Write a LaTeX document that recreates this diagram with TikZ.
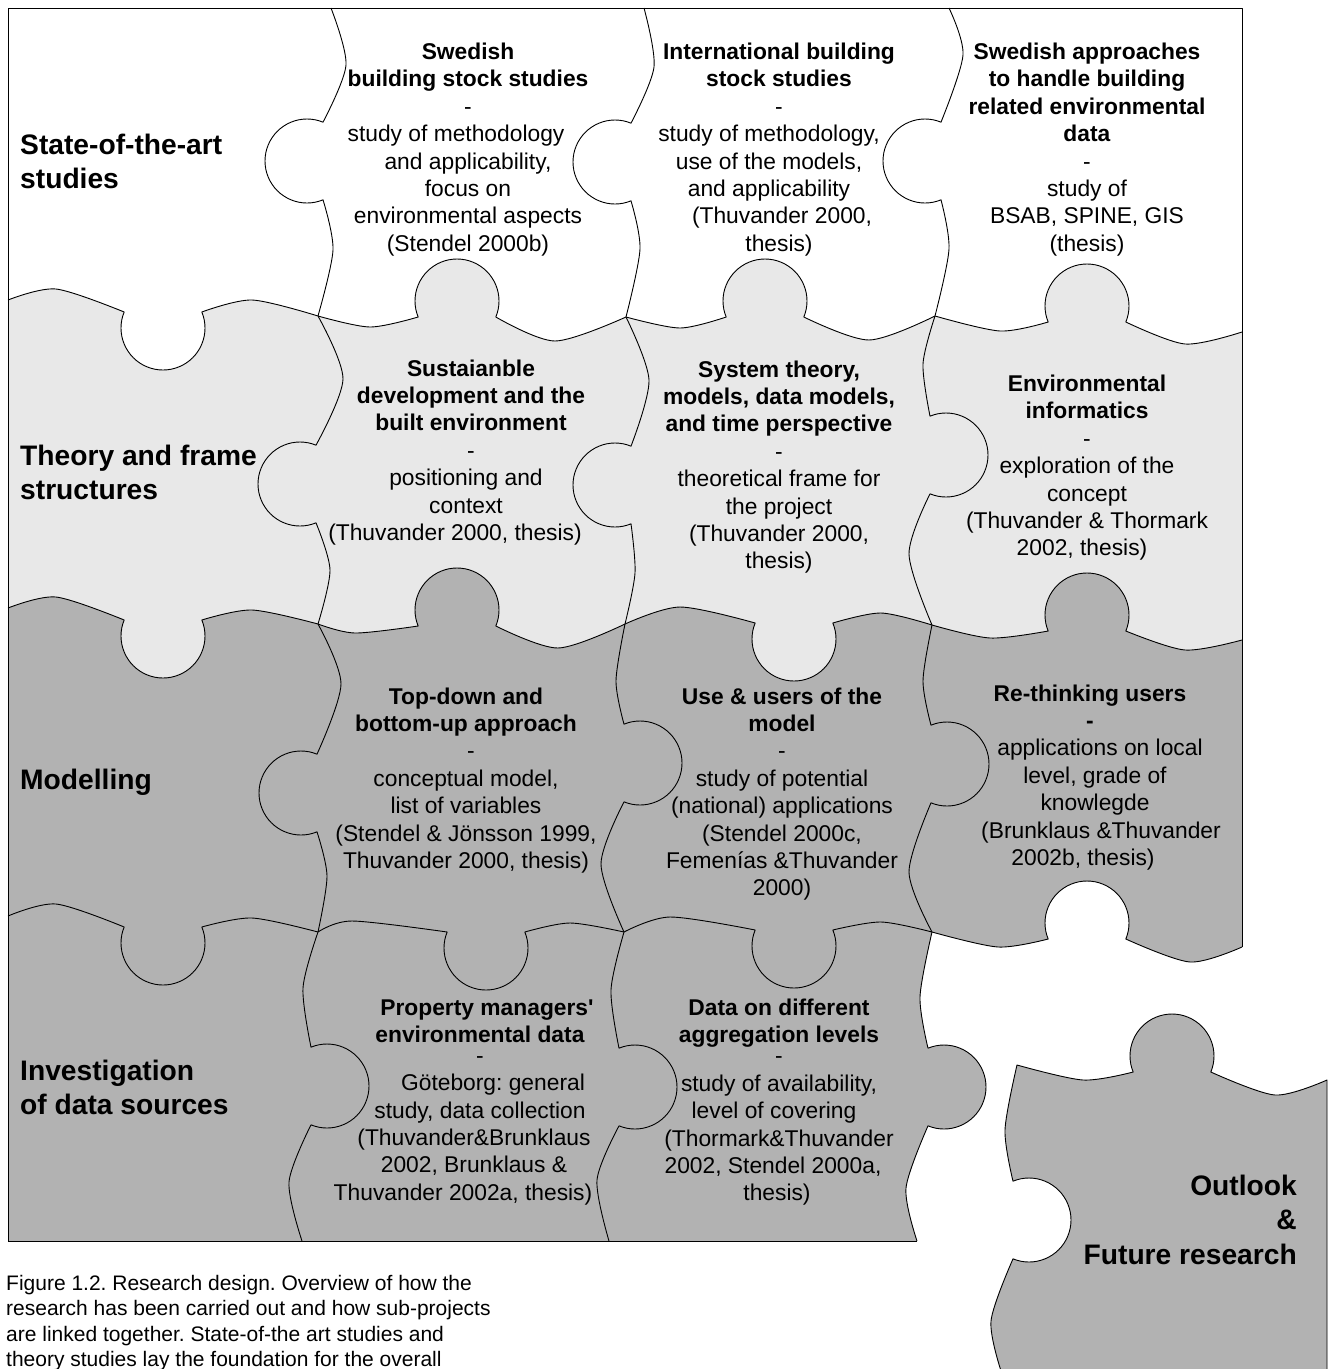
\documentclass[tikz,border=0pt]{standalone}
\usepackage{fontspec}
\setmainfont{Liberation Sans}
\frenchspacing
\definecolor{lightpiece}{RGB}{232,232,232}
\definecolor{darkpiece}{RGB}{178,178,178}

% One puzzle seam: shoulder (start, bulge, neck) -- round knob -- shoulder (neck, bulge, end).
% Arguments: start, shoulder bulge, knob centre x, knob centre y, second bulge, end.
\newcommand\kdown[6]{-- plot[smooth] coordinates {#1 #2 ({#3-38.83},{#4-16})}
  -- plot[domain=202.39:-22.39,samples=41] ({#3+42*cos(\x)},{#4+42*sin(\x)})
  -- plot[smooth] coordinates {({#3+38.83},{#4-16}) #5 #6}}
\newcommand\kup[6]{-- plot[smooth] coordinates {#1 #2 ({#3-38.83},{#4+16})}
  -- plot[domain=157.61:382.39,samples=41] ({#3+42*cos(\x)},{#4+42*sin(\x)})
  -- plot[smooth] coordinates {({#3+38.83},{#4+16}) #5 #6}}
\newcommand\kupback[6]{-- plot[smooth] coordinates {#1 #2 ({#3+38.83},{#4+16})}
  -- plot[domain=382.39:157.61,samples=41] ({#3+42*cos(\x)},{#4+42*sin(\x)})
  -- plot[smooth] coordinates {({#3-38.83},{#4+16}) #5 #6}}
\newcommand\kleft[6]{-- plot[smooth] coordinates {#1 #2 ({#3+16},{#4-38.83})}
  -- plot[domain=-67.61:-292.39,samples=41] ({#3+42*cos(\x)},{#4+42*sin(\x)})
  -- plot[smooth] coordinates {({#3+16},{#4+38.83}) #5 #6}}
\newcommand\kright[6]{-- plot[smooth] coordinates {#1 #2 ({#3-16},{#4-38.83})}
  -- plot[domain=-112.39:112.39,samples=41] ({#3+42*cos(\x)},{#4+42*sin(\x)})
  -- plot[smooth] coordinates {({#3-16},{#4+38.83}) #5 #6}}
\newcommand\krightback[6]{-- plot[smooth] coordinates {#1 #2 ({#3-16},{#4+38.83})}
  -- plot[domain=112.39:-112.39,samples=41] ({#3+42*cos(\x)},{#4+42*sin(\x)})
  -- plot[smooth] coordinates {({#3-16},{#4-38.83}) #5 #6}}

% Row seams (left to right)
\newcommand\Hone{%
 \kdown{(8,300)}{(56,289)}{163}{328}{(252,300)}{(318,316)}
 \kup{(318,316)}{(370,327)}{457}{301}{(555,341)}{(626,317)}
 \kup{(626,317)}{(680,328)}{765}{301}{(869,340)}{(935,316)}
 \kup{(935,316)}{(1000,331)}{1087}{306}{(1185,344)}{(1242,332)}}
\newcommand\Htwo{%
 \kdown{(8,608)}{(56,597)}{163}{636}{(252,610)}{(318,624)}
 \kup{(318,624)}{(355,633)}{457}{610}{(558,648)}{(625,624)}
 \kdown{(625,624)}{(680,607)}{794}{639}{(881,613)}{(932,625)}
 \kup{(932,625)}{(990,638)}{1087}{615}{(1185,650)}{(1242,640)}}
\newcommand\Hthreefour{\kup{(932,932)}{(998,947)}{1087}{923}{(1190,962)}{(1242,947)}}
\newcommand\Hthreefourback{\kupback{(1242,947)}{(1190,962)}{1087}{923}{(998,947)}{(932,932)}}
\newcommand\Hthree{%
 \kdown{(8,916)}{(56,904)}{163}{943}{(252,918)}{(318,932)}
 \kdown{(318,932)}{(352,921)}{486}{948}{(570,923)}{(624,932)}
 \kdown{(624,932)}{(670,917)}{794}{946}{(881,922)}{(932,932)}
 \Hthreefour}

% Column seams (top to bottom)
\newcommand\Vone{%
 \kleft{(331,8)}{(346,65)}{307}{161}{(333,250)}{(318,316)}
 \kleft{(318,316)}{(343,379)}{300}{484}{(330,570)}{(318,624)}
 \kleft{(318,624)}{(341,684)}{301}{793}{(327,876)}{(318,932)}
 \kright{(318,932)}{(303,988)}{327}{1086}{(289,1182)}{(302,1241)}}
\newcommand\Vtwo{%
 \kleft{(644,8)}{(654,67)}{615}{162}{(640,249)}{(626,317)}
 \kleft{(626,317)}{(649,380)}{615}{485}{(635,573)}{(625,624)}
 \kright{(625,624)}{(616,681)}{640}{763}{(601,864)}{(624,932)}
 \kright{(624,932)}{(611,990)}{635}{1087}{(597,1180)}{(609,1241)}}
\newcommand\Vthreefour{\kright{(932,932)}{(920,997)}{944}{1087}{(906,1188)}{(917,1241)}}
\newcommand\Vthreefourback{\krightback{(917,1241)}{(906,1188)}{944}{1087}{(920,997)}{(932,932)}}
\newcommand\Vthree{%
 \kleft{(949,8)}{(963,55)}{925}{161}{(949,249)}{(935,316)}
 \kright{(935,316)}{(923,364)}{946}{455}{(909,554)}{(932,625)}
 \kright{(932,625)}{(923,681)}{947}{764}{(909,872)}{(932,932)}
 \Vthreefour}

% horizontal nudge of a single centred line
\newcommand\nudge[1]{\hspace*{#1pt}}

\begin{document}
\begin{tikzpicture}[x=1pt,y=-1pt,
  seam/.style={draw=black,line width=0.9pt,line join=round},
  piecetext/.style={font=\fontsize{22.8pt}{27.4pt}\selectfont,align=center,anchor=base,inner sep=0pt},
  rowlabel/.style={font=\fontsize{28.2pt}{34.5pt}\selectfont\bfseries,align=left,anchor=base west,inner sep=0pt},
  captiontext/.style={font=\fontsize{21pt}{25.5pt}\selectfont,align=left,anchor=base west,inner sep=0pt}]
\useasboundingbox (0,0) rectangle (1334,1369);
\clip (0,0) rectangle (1334,1369);
\fill[white] (0,0) rectangle (1334,1369);

% piece colours: row 2 light, rows 3-4 dark
\fill[lightpiece] (8,300) \Hone -- (1242,947) \Hthreefourback \Vthreefour -- (8,1241) -- cycle;
\fill[darkpiece] (8,608) \Htwo -- (1242,947) \Hthreefourback \Vthreefour -- (8,1241) -- cycle;

% seams and frame
\draw[seam] (8,300) \Hone;
\draw[seam] (8,608) \Htwo;
\draw[seam] (8,916) \Hthree;
\draw[seam] (331,8) \Vone;
\draw[seam] (644,8) \Vtwo;
\draw[seam] (949,8) \Vthree;
\draw[seam] (8,1241) -- (8,8) -- (1242,8) -- (1242,947);
\draw[seam] (8,1241) -- (917,1241);

% the loose piece
\begin{scope}[shift={(85,133)}]
\filldraw[seam,fill=darkpiece] (932,932) \Hthreefour -- (1242,1320) -- (917,1320) -- (917,1241) \Vthreefourback -- cycle;
\end{scope}

% row labels (positions give the baseline of the last line)
\node[rowlabel] (lab1) at (20,188.5) {State-of-the-art\\studies};
\node[rowlabel] (lab2) at (20,499.5) {Theory and frame\\structures};
\node[rowlabel] (lab3) at (20,789.5) {Modelling};
\node[rowlabel] (lab4) at (20,1114.5) {Investigation\\of data sources};
\node[rowlabel,align=right,anchor=base east] (outlook) at (1297,1264) {Outlook\\\&\\Future research};

% row 1
\node[piecetext] (p12) at (468,251.3) {\textbf{Swedish}\\\textbf{building stock studies}\\-\\\nudge{-24}study of methodology\\and applicability,\\focus on\\environmental aspects\\(Stendel 2000b)};
\node[piecetext] (p13) at (779,251.3) {\textbf{International building}\\\textbf{stock studies}\\-\\\nudge{-20}study of methodology,\\\nudge{-20}use of the models,\\\nudge{-20}and applicability\\\nudge{6}(Thuvander 2000,\\thesis)};
\node[piecetext] (p14) at (1087,251.3) {\textbf{Swedish approaches}\\\textbf{to handle building}\\\textbf{related environmental}\\\textbf{data}\\-\\study of\\BSAB, SPINE, GIS\\(thesis)};

% row 2
\node[piecetext] (p22) at (471,540.4) {\textbf{Sustaianble}\\\textbf{development and the}\\\textbf{built environment}\\-\\\nudge{-10}positioning and\\\nudge{-10}context\\\nudge{-32}(Thuvander 2000, thesis)};
\node[piecetext] (p23) at (779,568.8) {\textbf{System theory,}\\\textbf{models, data models,}\\\textbf{and time perspective}\\-\\theoretical frame for\\the project\\(Thuvander 2000,\\thesis)};
\node[piecetext] (p24) at (1087,555.9) {\textbf{Environmental}\\\textbf{informatics}\\-\\exploration of the\\concept\\(Thuvander \& Thormark\\\nudge{-10}2002, thesis)};

% row 3
\node[piecetext] (p32) at (466,868.4) {\textbf{Top-down and}\\\textbf{bottom-up approach}\\\nudge{10}-\\conceptual model,\\list of variables\\(Stendel \& Jönsson 1999,\\Thuvander 2000, thesis)};
\node[piecetext] (p33) at (782,895.8) {\textbf{Use \& users of the}\\\textbf{model}\\-\\study of potential\\(national) applications\\(Stendel 2000c,\\Femenías \&Thuvander\\2000)};
\node[piecetext] (p34) at (1090,865.4) {\textbf{Re-thinking users}\\\textbf{-}\\\nudge{20}applications on local\\\nudge{10}level, grade of\\\nudge{10}knowlegde\\\nudge{22}(Brunklaus \&Thuvander\\\nudge{-14}2002b, thesis)};

% row 4
\node[piecetext] (p42) at (480,1200.3) {\nudge{14}\textbf{Property managers\textquotesingle}\\\textbf{environmental data}\\[-6.5pt]-\\\nudge{26}Göteborg: general\\study, data collection\\\nudge{-12}(Thuvander\&Brunklaus\\\nudge{-12}2002, Brunklaus \&\\\nudge{-34}Thuvander 2002a, thesis)};
\node[piecetext] (p43) at (779,1200.8) {\textbf{Data on different}\\\textbf{aggregation levels}\\[-6.5pt]-\\study of availability,\\\nudge{-10}level of covering\\(Thormark\&Thuvander\\\nudge{-12}2002, Stendel 2000a,\\\nudge{-4}thesis)};

% caption
\node[captiontext] (caption) at (6,1366.5) {Figure 1.2. Research design. Overview of how the\\research has been carried out and how sub-projects\\are linked together. State-of-the art studies and\\theory studies lay the foundation for the overall};
\end{tikzpicture}
\end{document}
